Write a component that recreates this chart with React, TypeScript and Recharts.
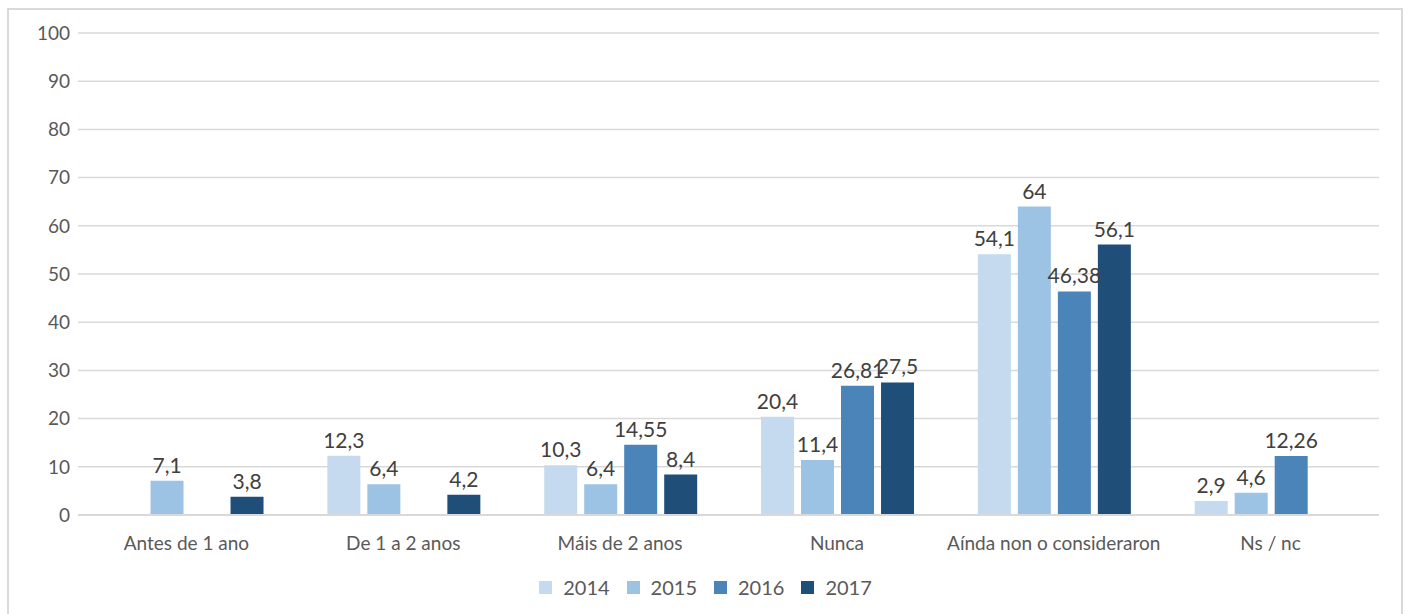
import { BarChart, Bar, XAxis, YAxis, CartesianGrid, LabelList } from 'recharts';

const categories = ['Antes de 1 ano', 'De 1 a 2 anos', 'Máis de 2 anos', 'Nunca', 'Aínda non o consideraron', 'Ns / nc'];
const years = ['2014', '2015', '2016', '2017'];
const values2014 = [null, 12.3, 10.3, 20.4, 54.1, 2.9];
const values2015 = [7.1, 6.4, 6.4, 11.4, 64, 4.6];
const values2016 = [null, null, 14.55, 26.81, 46.38, 12.26];
const values2017 = [3.8, 4.2, 8.4, 27.5, 56.1, null];
const yTicks = [0, 10, 20, 30, 40, 50, 60, 70, 80, 90, 100];

const COLORS = ['#c5daee', '#9dc3e4', '#4a84b8', '#1f4e79'];
const FONT = 'Lato, "Liberation Sans", sans-serif';

const series = [values2014, values2015, values2016, values2017];
const data = categories.map((name, i) => {
  const row: Record<string, string | number | null> = { name };
  years.forEach((y, s) => {
    row[y] = series[s][i];
  });
  return row;
});

const fmt = (v: unknown) => (v === null || v === undefined ? '' : String(v).replace('.', ','));

const ChartLegend = () => (
  <div
    style={{
      position: 'absolute',
      left: 0,
      top: 575,
      width: 1411,
      display: 'flex',
      justifyContent: 'center',
      alignItems: 'center',
      fontSize: 20,
      fontFamily: FONT,
      color: '#595959',
      lineHeight: '24px',
    }}
  >
    {years.map((y, i) => (
      <div key={y} style={{ display: 'flex', alignItems: 'center', marginRight: i < years.length - 1 ? 17 : 0 }}>
        <span style={{ display: 'inline-block', width: 13, height: 13, background: COLORS[i], marginRight: 11 }} />
        <span>{y}</span>
      </div>
    ))}
  </div>
);

export default function App() {
  return (
    <div
      style={{
        position: 'fixed',
        left: 0,
        top: 0,
        width: 1411,
        height: 614,
        background: '#ffffff',
        fontFamily: FONT,
        overflow: 'hidden',
      }}
    >
      <div
        style={{
          position: 'absolute',
          left: 7,
          top: 8,
          width: 1396,
          height: 640,
          border: '2px solid #d9d9d9',
          boxSizing: 'border-box',
        }}
      />
      <div style={{ position: 'absolute', left: 0, top: 0 }}>
        <BarChart
          width={1411}
          height={614}
          data={data}
          margin={{ top: 33, right: 32, bottom: 69, left: 0 }}
          barCategoryGap="15%"
          barGap={7}
        >
          <CartesianGrid vertical={false} stroke="#d9d9d9" strokeWidth={1.5} />
          <XAxis
            dataKey="name"
            height={30}
            axisLine={{ stroke: '#d9d9d9', strokeWidth: 2 }}
            tickLine={false}
            tickSize={0}
            tickMargin={22}
            interval={0}
            tick={{ fontSize: 19, fill: '#595959', fontFamily: FONT }}
          />
          <YAxis
            domain={[0, 100]}
            ticks={yTicks}
            width={78}
            axisLine={false}
            tickLine={false}
            tickSize={0}
            tickMargin={8}
            tick={{ fontSize: 19, fill: '#595959', fontFamily: FONT }}
          />
          {years.map((y, i) => (
            <Bar key={y} dataKey={y} fill={COLORS[i]} isAnimationActive={false}>
              <LabelList
                dataKey={y}
                position="top"
                offset={8}
                formatter={fmt}
                style={{ fontSize: 21, fill: '#404040', fontFamily: FONT }}
              />
            </Bar>
          ))}
        </BarChart>
      </div>
      <ChartLegend />
    </div>
  );
}
